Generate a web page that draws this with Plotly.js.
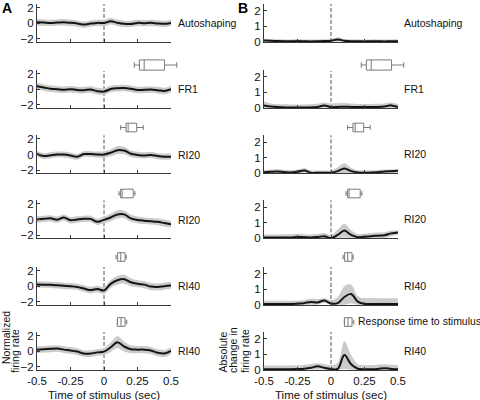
<!DOCTYPE html>
<html><head><meta charset="utf-8">
<script src="https://cdn.plot.ly/plotly-3.0.1.min.js"></script>
<style>html,body{margin:0;padding:0;background:#fff}#chart{width:480px;height:400px}</style>
</head><body><div id="chart"></div>
<script>
// ---------- data ----------
const timeSec = [-0.5,-0.45,-0.4,-0.35,-0.3,-0.25,-0.2,-0.15,-0.1,-0.05,0,0.05,0.1,0.15,0.2,0.25,0.3,0.35,0.4,0.45,0.5];
const phases = ['Autoshaping','FR1','RI20','RI20','RI40','RI40'];

// Panel A: normalized firing rate (mean and sem)
const normAuto  = [0.12,0.08,0.04,0.08,0.12,0.05,-0.04,-0.18,-0.05,0.04,0.02,0.25,0.05,-0.08,-0.1,0.04,0.0,0.05,-0.03,-0.08,0.04];
const normFr1   = [0.39,0.22,0.06,0.0,-0.08,0.0,-0.1,-0.12,-0.04,-0.25,-0.3,0.02,0.12,0.15,0.05,-0.1,-0.08,-0.04,-0.12,-0.22,0.0];
const normRi20a = [0.08,-0.2,-0.1,0.0,0.0,-0.12,-0.3,0.05,0.05,0.0,0.0,0.22,0.55,0.5,0.1,-0.05,-0.12,-0.05,-0.2,-0.28,-0.28];
const normRi20b = [0.0,0.08,0.15,-0.02,0.25,-0.1,0.0,0.08,0.08,-0.3,-0.05,0.25,0.65,0.65,0.15,-0.05,-0.15,-0.22,-0.3,-0.45,-0.6];
const normRi40a = [0.22,0.2,0.18,0.12,0.05,0.0,-0.1,-0.3,-0.5,-0.35,-0.55,0.3,0.75,0.9,0.5,0.3,0.2,-0.05,-0.1,0.0,0.08];
const normRi40b = [0.2,0.25,0.3,0.35,0.2,0.1,-0.05,-0.3,-0.3,-0.15,-0.05,0.5,1.15,0.6,0.25,0.2,0.2,0.1,-0.2,-0.3,0.05];

const semAuto  = [0.4,0.4,0.4,0.4,0.4,0.4,0.4,0.4,0.4,0.4,0.42,0.42,0.4,0.4,0.4,0.4,0.4,0.4,0.4,0.4,0.4];
const semFr1   = [0.42,0.42,0.42,0.42,0.42,0.42,0.42,0.42,0.42,0.42,0.42,0.42,0.42,0.42,0.42,0.42,0.42,0.42,0.42,0.42,0.42];
const semRi20a = [0.38,0.38,0.38,0.38,0.38,0.38,0.38,0.38,0.38,0.38,0.4,0.45,0.5,0.48,0.42,0.4,0.4,0.4,0.4,0.4,0.4];
const semRi20b = [0.4,0.4,0.4,0.4,0.4,0.4,0.4,0.4,0.4,0.4,0.42,0.48,0.52,0.5,0.45,0.42,0.42,0.42,0.42,0.45,0.45];
const semRi40a = [0.4,0.4,0.4,0.4,0.4,0.4,0.4,0.42,0.42,0.42,0.45,0.5,0.55,0.55,0.5,0.45,0.45,0.45,0.45,0.45,0.45];
const semRi40b = [0.42,0.42,0.42,0.42,0.42,0.42,0.42,0.42,0.42,0.42,0.45,0.6,0.75,0.65,0.5,0.45,0.45,0.45,0.45,0.45,0.45];

// Panel B: absolute change in firing rate (mean and sem)
const absAuto  = [0.07,0.06,0.04,0.03,0.03,0.04,0.03,0.02,0.03,0.04,0.06,0.15,0.06,0.03,0.03,0.02,0.03,0.03,0.02,0.03,0.03];
const absFr1   = [0.15,0.08,0.04,0.02,0.01,0.01,0.01,0.02,0.05,0.14,0.04,0.05,0.06,0.05,0.04,0.04,0.04,0.05,0.08,0.15,0.04];
const absRi20a = [0.05,0.08,0.1,0.06,0.04,0.08,0.16,0.02,0.01,0.01,0.02,0.12,0.3,0.12,0.03,0.01,0.03,0.05,0.1,0.12,0.14];
const absRi20b = [0.03,0.03,0.03,0.03,0.04,0.07,0.05,0.03,0.06,0.12,0.0,0.2,0.48,0.2,0.05,0.08,0.12,0.15,0.18,0.3,0.36];
const absRi40a = [0.05,0.05,0.05,0.05,0.05,0.06,0.1,0.18,0.15,0.27,0.08,0.1,0.5,0.7,0.2,0.05,0.05,0.04,0.04,0.04,0.04];
const absRi40b = [0.03,0.03,0.03,0.03,0.03,0.04,0.06,0.12,0.22,0.12,0.05,0.05,0.95,0.35,0.06,0.03,0.03,0.05,0.1,0.05,0.03];

const absSemAuto  = [0.12,0.12,0.12,0.12,0.12,0.12,0.12,0.12,0.12,0.12,0.12,0.14,0.12,0.12,0.12,0.12,0.12,0.12,0.12,0.12,0.12];
const absSemFr1   = [0.25,0.2,0.2,0.2,0.2,0.2,0.2,0.2,0.2,0.2,0.24,0.24,0.24,0.22,0.2,0.2,0.2,0.2,0.2,0.18,0.2];
const absSemRi20a = [0.15,0.15,0.15,0.15,0.15,0.15,0.15,0.15,0.15,0.15,0.15,0.25,0.33,0.2,0.15,0.15,0.15,0.15,0.12,0.12,0.12];
const absSemRi20b = [0.2,0.2,0.2,0.2,0.2,0.2,0.2,0.2,0.2,0.2,0.2,0.35,0.45,0.3,0.2,0.2,0.2,0.2,0.2,0.18,0.15];
const absSemRi40a = [0.2,0.2,0.2,0.2,0.2,0.2,0.2,0.2,0.22,0.15,0.22,0.4,0.7,0.6,0.35,0.38,0.38,0.38,0.38,0.38,0.38];
const absSemRi40b = [0.25,0.25,0.25,0.25,0.25,0.25,0.25,0.25,0.2,0.25,0.25,0.4,0.9,0.6,0.3,0.27,0.27,0.27,0.25,0.27,0.27];

// Response time to stimulus (box plots above panels FR1 .. RI40)
const rtLow    = [0.226,0.124,0.112,0.09,0.10];
const rtQ1     = [0.264,0.164,0.124,0.102,0.10];
const rtMedian = [0.30,0.18,0.135,0.125,0.127];
const rtQ3     = [0.452,0.244,0.218,0.157,0.157];
const rtHigh   = [0.543,0.293,0.231,0.166,0.17];

const xTickVals = [-0.5,-0.25,0,0.25,0.5];
const xTickText = ['-0.5','-0.25','0','0.25','0.5'];
const normTickVals = [-2,0,2];
const absTickVals = [0,1,2];
const stimulusTime = 0;

// ---------- layout geometry (pixels) ----------
const W = 480, H = 400;
const FONT = 'Liberation Sans, Arial, Helvetica, sans-serif';
const colLeftPx = [37, 264], colWidthPx = 134;
const panelBottomPx = [42, 108, 173.3, 238.3, 305, 370], panelHeightPx = 38;
const boxCenterPx = [65, 127.5, 193.5, 257, 322];
const fx = p => p / W, fy = p => 1 - p / H;

const normMeans = [normAuto, normFr1, normRi20a, normRi20b, normRi40a, normRi40b];
const normSems  = [semAuto, semFr1, semRi20a, semRi20b, semRi40a, semRi40b];
const absMeans  = [absAuto, absFr1, absRi20a, absRi20b, absRi40a, absRi40b];
const absSems   = [absSemAuto, absSemFr1, absSemRi20a, absSemRi20b, absSemRi40a, absSemRi40b];

const bandColor = '#cbcbcb', lineColor = '#141414', axisColor = '#3a3a3a';
const data = [], shapes = [], annotations = [];
const layout = {
  width: W, height: H, margin: {l: 0, r: 0, t: 0, b: 0},
  paper_bgcolor: '#fff', plot_bgcolor: '#fff', showlegend: false,
  font: {family: FONT, size: 11, color: '#111'}
};
const key = n => (n > 1 ? String(n) : '');
let n = 0;

for (let col = 0; col < 2; col++) {
  for (let p = 0; p < 6; p++) {
    n++;
    const xa = 'x' + key(n), ya = 'y' + key(n);
    const mean = col ? absMeans[p] : normMeans[p];
    const sem = col ? absSems[p] : normSems[p];
    const upper = mean.map((m, i) => m + sem[i]);
    const lower = mean.map((m, i) => col ? Math.max(0, m - sem[i]) : m - sem[i]);
    data.push({x: timeSec, y: lower, xaxis: xa, yaxis: ya, type: 'scatter', mode: 'lines',
      line: {width: 0, shape: 'spline', color: bandColor}, hoverinfo: 'skip'});
    data.push({x: timeSec, y: upper, xaxis: xa, yaxis: ya, type: 'scatter', mode: 'lines',
      fill: 'tonexty', fillcolor: bandColor, line: {width: 0, shape: 'spline', color: bandColor}, hoverinfo: 'skip'});
    data.push({x: timeSec, y: mean, xaxis: xa, yaxis: ya, type: 'scatter', mode: 'lines',
      line: {width: 2, shape: 'spline', color: lineColor}, hoverinfo: 'skip'});
    const bottom = p === 5;
    layout['xaxis' + key(n)] = {
      domain: [fx(colLeftPx[col]), fx(colLeftPx[col] + colWidthPx)], range: [-0.5, 0.5],
      anchor: ya, tickmode: 'array', tickvals: xTickVals, ticktext: xTickText,
      showticklabels: bottom, ticks: 'inside', ticklen: 3, tickcolor: axisColor,
      showline: true, linecolor: axisColor, linewidth: 1, showgrid: false, zeroline: false,
      tickfont: {size: 11.5, family: FONT, color: '#111'}
    };
    layout['yaxis' + key(n)] = {
      domain: [fy(panelBottomPx[p]), fy(panelBottomPx[p] - panelHeightPx)],
      range: col ? [-0.02, 2.45] : [-2.4, 2.45], anchor: xa,
      tickmode: 'array', tickvals: col ? absTickVals : normTickVals,
      ticks: 'inside', ticklen: 3, tickcolor: axisColor,
      showline: true, linecolor: axisColor, linewidth: 1, showgrid: false, zeroline: false,
      tickfont: {size: 11.5, family: FONT, color: '#111'}
    };
    shapes.push({type: 'line', xref: xa, yref: ya + ' domain', x0: stimulusTime, x1: stimulusTime, y0: 0, y1: 1,
      layer: 'below', line: {color: '#555', width: 1, dash: '4px,2px'}});
    annotations.push({text: phases[p], xref: xa + ' domain', x: 1, xshift: col ? 4 : 5, xanchor: 'left',
      yref: ya, y: col ? 1.22 : 0, yanchor: 'middle', showarrow: false,
      font: {size: 10.5, family: FONT, color: '#111'}});
  }
}

// box plots: response time to stimulus
for (let col = 0; col < 2; col++) {
  for (let k = 0; k < 5; k++) {
    n++;
    const xa = 'x' + key(n), ya = 'y' + key(n);
    data.push({type: 'box', orientation: 'h', xaxis: xa, yaxis: ya, y: [0],
      q1: [rtQ1[k]], median: [rtMedian[k]], q3: [rtQ3[k]],
      lowerfence: [rtLow[k]], upperfence: [rtHigh[k]],
      width: k === 0 ? 0.85 : 0.72, whiskerwidth: 0.55, boxpoints: false,
      fillcolor: '#ffffff', line: {color: '#7a7a7a', width: 1}, hoverinfo: 'skip'});
    layout['xaxis' + key(n)] = {domain: [fx(colLeftPx[col]), fx(colLeftPx[col] + colWidthPx * 1.15)],
      range: [-0.5, 0.65], anchor: ya, visible: false, fixedrange: true};
    layout['yaxis' + key(n)] = {domain: [fy(boxCenterPx[k] + 6), fy(boxCenterPx[k] - 6)],
      range: [-0.5, 0.5], anchor: xa, visible: false, fixedrange: true};
  }
}

const txt = (text, xpx, ypx, opts) => Object.assign({text, xref: 'paper', yref: 'paper',
  x: fx(xpx), y: fy(ypx), showarrow: false, font: {size: 10.5, family: FONT, color: '#111'}}, opts || {});

annotations.push(txt('<b>A</b>', 0, 8, {xanchor: 'left', yanchor: 'middle', font: {size: 14, family: FONT, color: '#000'}}));
annotations.push(txt('<b>B</b>', 236, 8, {xanchor: 'left', yanchor: 'middle', font: {size: 14, family: FONT, color: '#000'}}));
annotations.push(txt('Time of stimulus (sec)', 104, 395, {xanchor: 'center', yanchor: 'middle', font: {size: 11.5, family: FONT, color: '#111'}}));
annotations.push(txt('Time of stimulus (sec)', 331, 395, {xanchor: 'center', yanchor: 'middle', font: {size: 11.5, family: FONT, color: '#111'}}));
annotations.push(txt('Normalized', 5.5, 366, {textangle: -90, xanchor: 'center', yanchor: 'bottom'}));
annotations.push(txt('firing rate', 15, 375, {textangle: -90, xanchor: 'center', yanchor: 'bottom'}));
annotations.push(txt('Absolute', 222, 375, {textangle: -90, xanchor: 'center', yanchor: 'bottom'}));
annotations.push(txt('change in', 233, 375, {textangle: -90, xanchor: 'center', yanchor: 'bottom'}));
annotations.push(txt('firing rate', 245, 375, {textangle: -90, xanchor: 'center', yanchor: 'bottom'}));
annotations.push(txt('Response time to stimulus', 356, 321, {xanchor: 'left', yanchor: 'middle'}));

layout.shapes = shapes;
layout.annotations = annotations;

Plotly.newPlot('chart', data, layout, {staticPlot: true, displayModeBar: false});
</script>
</body></html>
